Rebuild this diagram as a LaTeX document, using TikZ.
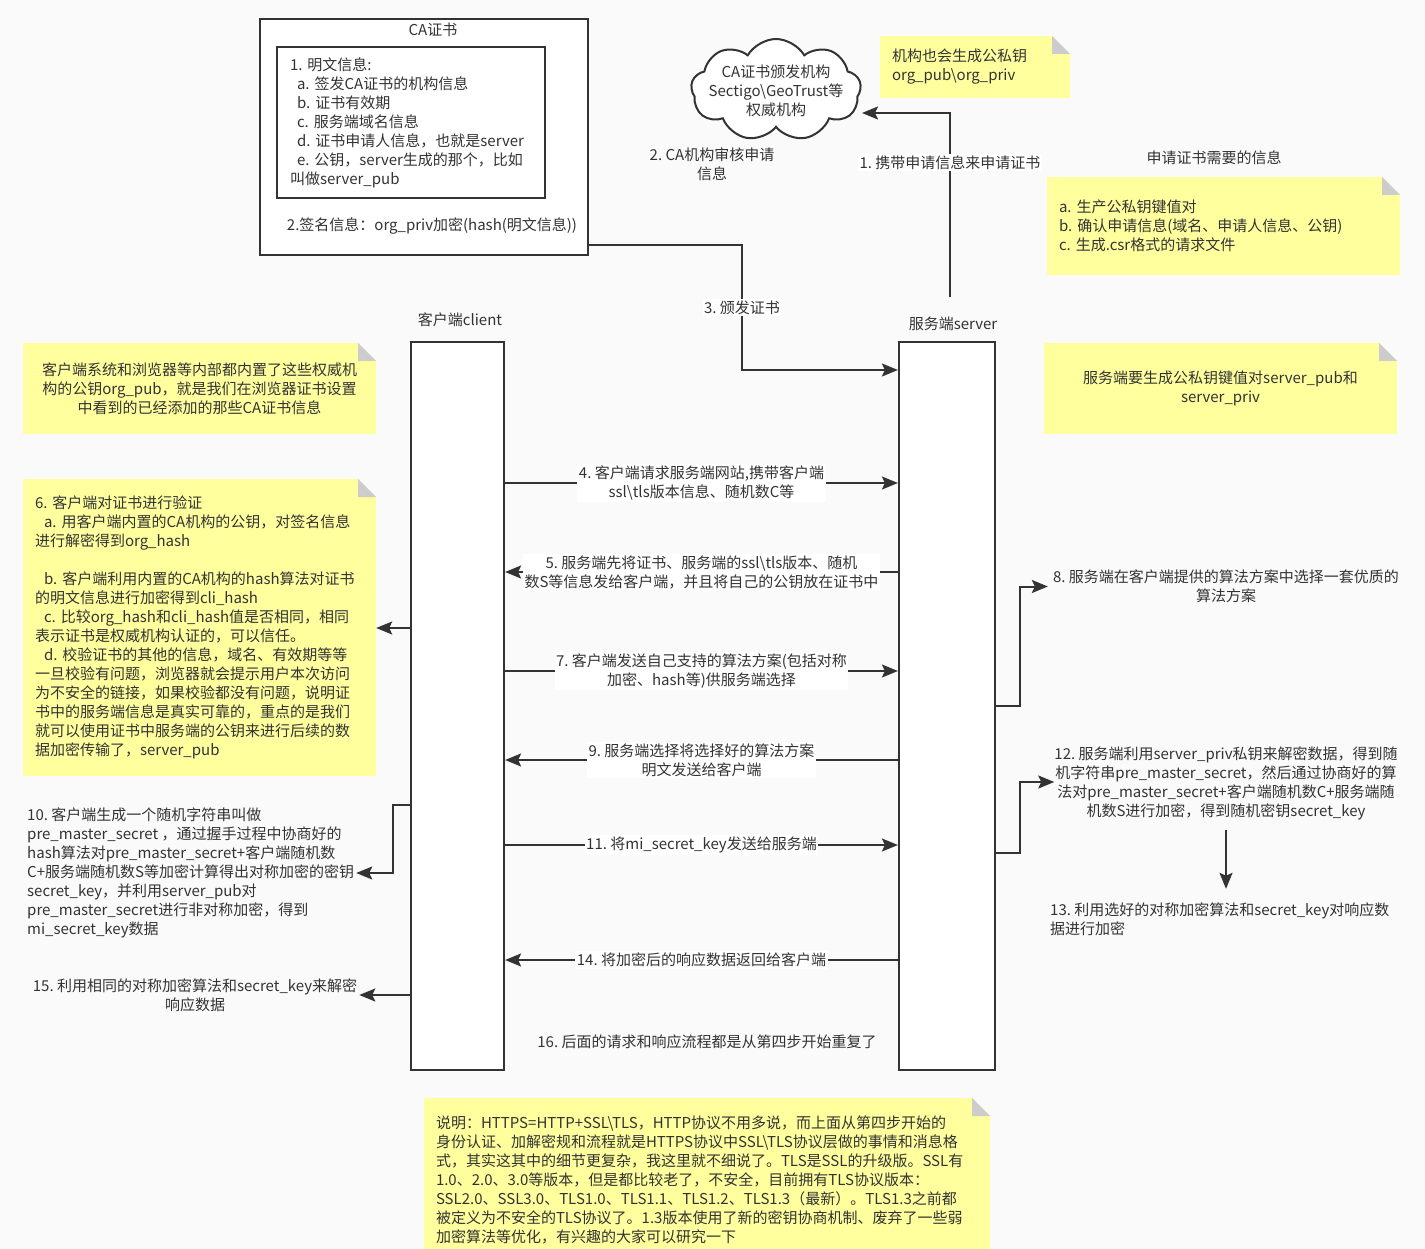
\documentclass[tikz,border=0pt]{standalone}
\usepackage{fontspec}
\setmainfont{Noto Sans CJK SC}
\usetikzlibrary{arrows.meta,shapes.symbols}

\definecolor{ink}{RGB}{51,51,51}
\definecolor{notefill}{RGB}{255,255,158}
\definecolor{foldgray}{RGB}{204,204,204}
\definecolor{bgc}{RGB}{250,250,250}
\hyphenpenalty=10000
\exhyphenpenalty=10000

\begin{document}
\begin{tikzpicture}[x=1pt, y=-1pt,
    txt/.style={font=\fontsize{15}{19}\selectfont, text=ink, inner sep=0pt},
    lbl/.style={txt, fill=white, inner sep=1.5pt, align=center},
    flow/.style={draw=ink, line width=2pt, -{Stealth[length=16pt,width=13pt,inset=3pt]}},
    box/.style={draw=ink, line width=2.6pt, fill=white},
    life/.style={draw=ink, line width=2.2pt, fill=white, minimum width=94, minimum height=728},
    note/.style={txt, fill=notefill, inner xsep=12pt, inner ysep=0pt,
        path picture={
            \fill[bgc] ([xshift=-18pt]path picture bounding box.north east) -- (path picture bounding box.north east)
                -- ([yshift=-18pt]path picture bounding box.north east) -- cycle;
            \fill[foldgray] ([xshift=-18pt]path picture bounding box.north east) -- ([yshift=-18pt]path picture bounding box.north east)
                -- ([xshift=-18pt,yshift=-18pt]path picture bounding box.north east) -- cycle;
        }},
]
    % Draw the background
    \fill[bgc] (0,0) rectangle (1425,1249);
    \useasboundingbox (0,0) rectangle (1425,1249);

    % CA certificate
    \node[box, minimum width=328, minimum height=236] (cert) at (424,137) {};
    \node[txt] (certtitle) at (433,30) {CA证书};
    \node[box, txt, text width=242, inner xsep=13pt, minimum height=151, align=left] (plain) at (411,122.5)
        {1.~明文信息:\\
         \hspace*{7pt}a.~签发CA证书的机构信息\\
         \hspace*{7pt}b.~证书有效期\\
         \hspace*{7pt}c.~服务端域名信息\\
         \hspace*{7pt}d.~证书申请人信息，也就是server\\
         \hspace*{7pt}e.~公钥，server生成的那个，比如\\
         叫做server\_pub};
    \node[txt] (sign) at (432,226) {2.签名信息：org\_priv加密(hash(明文信息))};

    % CA authority
    \node[cloud, draw=ink, line width=2pt, fill=white, cloud puffs=9, cloud puff arc=120, aspect=1.7,
        minimum width=170, minimum height=102] (ca) at (776,90) {};
    \node[txt, align=center] (catext) at (776,91) {CA证书颁发机构\\Sectigo\textbackslash GeoTrust等\\权威机构};
    \node[txt, align=center] (t2) at (712,164.5) {2.~CA机构审核申请\\信息};

    % Notes
    \node[note, text width=166, minimum height=62, align=left] (orgnote) at (975,67)
        {机构也会生成公私钥\\org\_pub\textbackslash org\_priv};
    \node[txt] (csrtitle) at (1214,158) {申请证书需要的信息};
    \node[note, text width=329, minimum height=98, align=left] (csrnote) at (1223.5,226)
        {a.~生产公私钥键值对\\b.~确认申请信息(域名、申请人信息、公钥)\\c.~生成.csr格式的请求文件};
    \node[note, text width=329, minimum height=91, align=center] (clinote) at (199.5,388.5)
        {客户端系统和浏览器等内部都内置了这些权威机\\构的公钥org\_pub，就是我们在浏览器证书设置\\中看到的已经添加的那些CA证书信息};
    \node[note, text width=329, minimum height=91, align=center] (srvnote) at (1220.5,388.5)
        {服务端要生成公私钥键值对server\_pub和\\server\_priv};
    \node[note, text width=329, minimum height=297, align=left] (note6) at (199.5,627.5)
        {6.~客户端对证书进行验证\\
         \hspace*{9pt}a.~用客户端内置的CA机构的公钥，对签名信息\\
         进行解密得到org\_hash\\[19pt]
         \hspace*{9pt}b.~客户端利用内置的CA机构的hash算法对证书\\
         的明文信息进行加密得到cli\_hash\\
         \hspace*{9pt}c.~比较org\_hash和cli\_hash值是否相同，相同\\
         表示证书是权威机构认证的，可以信任。\\
         \hspace*{9pt}d.~校验证书的其他的信息，域名、有效期等等\\
         一旦校验有问题，浏览器就会提示用户本次访问\\
         为不安全的链接，如果校验都没有问题，说明证\\
         书中的服务端信息是真实可靠的，重点的是我们\\
         就可以使用证书中服务端的公钥来进行后续的数\\
         据加密传输了，server\_pub};
    \node[note, text width=542, minimum height=164, align=left] (tlsnote) at (707,1180)
        {说明：HTTPS=HTTP+SSL\textbackslash TLS，HTTP协议不用多说，而上面从第四步开始的\\
         身份认证、加解密规和流程就是HTTPS协议中SSL\textbackslash TLS协议层做的事情和消息格\\
         式，其实这其中的细节更复杂，我这里就不细说了。TLS是SSL的升级版。SSL有\\
         1.0、2.0、3.0等版本，但是都比较老了，不安全，目前拥有TLS协议版本：\\
         SSL2.0、SSL3.0、TLS1.0、TLS1.1、TLS1.2、TLS1.3（最新）。TLS1.3之前都\\
         被定义为不安全的TLS协议了。1.3版本使用了新的密钥协商机制、废弃了一些弱\\
         加密算法等优化，有兴趣的大家可以研究一下};

    % Client and server
    \node[txt] (clientlbl) at (460,320) {客户端client};
    \node[txt] (serverlbl) at (953,324) {服务端server};
    \node[life, minimum width=93] (client) at (457.5,706) {};
    \node[life, minimum width=96] (server) at (947,706) {};

    % Side texts
    \node[txt, anchor=west, align=left] (t10) at (27,873)
        {10.~客户端生成一个随机字符串叫做\\
         pre\_master\_secret~，通过握手过程中协商好的\\
         hash算法对pre\_master\_secret+客户端随机数\\
         C+服务端随机数S等加密计算得出对称加密的密钥\\
         secret\_key，并利用server\_pub对\\
         pre\_master\_secret进行非对称加密，得到\\
         mi\_secret\_key数据};
    \node[txt, align=center] (t15) at (195,995.5) {15.~利用相同的对称加密算法和secret\_key来解密\\响应数据};
    \node[txt, align=center] (t8) at (1226,586.5) {8.~服务端在客户端提供的算法方案中选择一套优质的\\算法方案};
    \node[txt, align=center] (t12) at (1226,783.5)
        {12.~服务端利用server\_priv私钥来解密数据，得到随\\
         机字符串pre\_master\_secret，然后通过协商好的算\\
         法对pre\_master\_secret+客户端随机数C+服务端随\\
         机数S进行加密，得到随机密钥secret\_key};
    \node[txt, anchor=west, align=left] (t13) at (1050,919.5)
        {13.~利用选好的对称加密算法和secret\_key对响应数\\据进行加密};
    \node[txt] (t16) at (707,1042) {16.~后面的请求和响应流程都是从第四步开始重复了};

    % Certificate request and issue
    \coordinate (req) at (950,297);
    \coordinate (cain) at (862,113);
    \draw[flow] (req) -- node[lbl, pos=0.73] {1.~携带申请信息来申请证书} (req |- cain) -- (cain);
    \draw[flow] (cert.east |- 0,245) -- (742,245) -- node[lbl] {3.~颁发证书} (742,370) -- (server.west |- 0,370);

    % Messages between client and server
    \draw[flow] (client.east |- 0,483) -- node[lbl] {4.~客户端请求服务端网站,携带客户端\\ssl\textbackslash tls版本信息、随机数C等} (server.west |- 0,483);
    \draw[flow] (server.west |- 0,572) -- node[lbl] {5.~服务端先将证书、服务端的ssl\textbackslash tls版本、随机\\数S等信息发给客户端，并且将自己的公钥放在证书中} (client.east |- 0,572);
    \draw[flow] (client.east |- 0,671) -- node[lbl] {7.~客户端发送自己支持的算法方案(包括对称\\加密、hash等)供服务端选择} (server.west |- 0,671);
    \draw[flow] (server.west |- 0,760) -- node[lbl] {9.~服务端选择将选择好的算法方案\\明文发送给客户端} (client.east |- 0,760);
    \draw[flow] (client.east |- 0,845) -- node[lbl] {11.~将mi\_secret\_key发送给服务端} (server.west |- 0,845);
    \draw[flow] (server.west |- 0,960) -- node[lbl] {14.~将加密后的响应数据返回给客户端} (client.east |- 0,960);

    % Local steps
    \draw[flow] (client.west |- 0,628) -- (note6.east |- 0,628);
    \draw[flow, shorten >=2pt] (client.west |- 0,805) -- (393,805) -- (393,873) -- (t10.east |- 0,873);
    \draw[flow, shorten >=2pt] (client.west |- 0,995) -- (t15.east |- 0,995);
    \draw[flow, shorten >=5pt] (server.east |- 0,706) -- (1020,706) |- (t8.west);
    \draw[flow] (server.east |- 0,853) -- (1020,853) |- (t12.west |- 0,782);
    \draw[flow, shorten <=10pt, shorten >=14pt] (t12.south) -- (t12.south |- t13.north);
\end{tikzpicture}
\end{document}
